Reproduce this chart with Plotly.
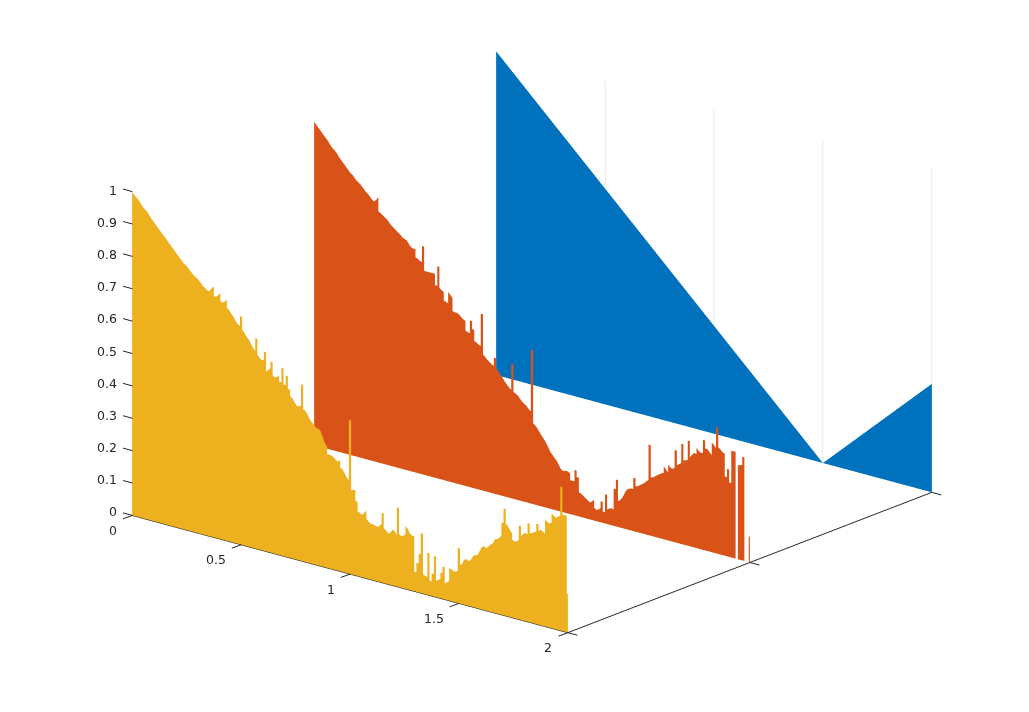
import plotly.graph_objects as go

x_step = 0.01
blue_x = [0, 1.5, 2]
blue_z = [1.0, 0.0, 0.335]
red_z = [
 1.00,.99,.985,.975,.97,.96,.955,.945,.935,.93,
 .925,.915,.905,.90,.89,.885,.875,.87,.865,.855,
 .85,.845,.84,.83,.825,.82,.81,.805,.80,.82,
 .775,.77,.765,.76,.755,.745,.74,.735,.73,.725,
 .72,.71,.715,.705,.695,.69,.69,.665,.66,.655,
 .705,.63,.63,.63,.63,.63,.595,.655,.59,.58,
 .555,.55,.585,.57,.53,.525,.53,.52,.515,.51,
 .48,.475,.515,.49,.455,.45,.445,.545,.42,.41,
 .405,.40,.395,.42,.39,.375,.37,.36,.35,.345,
 .335,.415,.33,.325,.32,.31,.305,.30,.295,.285,
 .475,.25,.24,.235,.22,.215,.205,.195,.18,.17,
 .165,.155,.15,.13,.13,.125,.135,.125,.105,.105,
 .14,.12,.075,.07,.065,.06,.055,.05,.065,.04,
 .03,.045,.065,.035,.09,.045,.055,.05,.115,.145,
 .08,.09,.10,.12,.125,.13,.13,.165,.14,.145,
 .15,.155,.16,.17,.28,.18,.185,.19,.195,.20,
 .205,.225,.21,.235,.22,.23,.285,.24,.25,.31,
 .26,.265,.325,.275,.295,.29,.31,.295,.30,.34,
 .315,.315,.30,.34,.325,.39,.33,.32,.315,.245,
 .27,.23,.33,.33,0,.29,.295,.32,0,0,
 .08]
yellow_z = [
 1.00,.99,.985,.98,.97,.96,.955,.95,.94,.93,
 .925,.915,.91,.90,.895,.885,.88,.87,.865,.855,
 .85,.84,.835,.825,.82,.815,.81,.80,.795,.79,
 .785,.78,.77,.765,.76,.755,.76,.775,.745,.745,
 .76,.735,.73,.745,.72,.71,.70,.695,.68,.675,
 .705,.665,.65,.645,.635,.625,.61,.65,.60,.585,
 .59,.615,.555,.57,.59,.55,.54,.555,.535,.58,
 .53,.56,.52,.50,.49,.48,.47,.48,.545,.47,
 .465,.45,.44,.435,.425,.42,.425,.41,.39,.375,
 .35,.355,.345,.35,.33,.345,.32,.315,.30,.29,
 .475,.26,.265,.23,.20,.195,.19,.21,.185,.17,
 .175,.17,.172,.165,.18,.215,.17,.16,.155,.165,
 .18,.16,.245,.165,.155,.17,.195,.18,.17,.17,
 .06,.09,.12,.185,.06,.055,.13,.045,.07,.125,
 .05,.06,.08,.10,.05,.06,.10,.10,.09,.10,
 .17,.12,.13,.15,.135,.14,.15,.165,.16,.17,
 .185,.20,.195,.19,.21,.205,.22,.235,.225,.245,
 .285,.33,.285,.275,.26,.24,.235,.245,.29,.26,
 .275,.27,.305,.275,.28,.285,.31,.29,.30,.285,
 .33,.32,.325,.355,.345,.345,.355,.445,.36,.36,
 .12]
series_y = [3, 2, 1]
colors = ["#0072BD", "#D95319", "#EDB120"]
x_ticks = [0, 0.5, 1, 1.5, 2]
y_ticks = [1, 2, 3]
z_ticks = [0, .1, .2, .3, .4, .5, .6, .7, .8, .9, 1]
grid_x = [0.5, 1, 1.5, 2]
grid_z_low = [0.667, 0.333, 0.0, 0.335]
INK = "#262626"


def mesh(X, Z, I, J, K, y, color):
    return go.Mesh3d(x=X, y=[y] * len(X), z=Z, i=I, j=J, k=K, color=color, flatshading=True,
                     lighting=dict(ambient=1, diffuse=0, specular=0, fresnel=0, roughness=1),
                     hoverinfo="skip", showscale=False)


def bars(zs, y, color):
    X, Z, I, J, K = [], [], [], [], []
    last = len(zs) - 1
    for n, v in enumerate(zs):
        if v <= 0:
            continue
        c = n * x_step
        a, b = max(c - x_step / 2, 0), min(c + x_step / 2, 2)
        # neighbouring bins that differ little join smoothly; spikes and gaps stay square
        left = (v + zs[n - 1]) / 2 if n > 0 and abs(v - zs[n - 1]) < 0.02 else v
        right = (v + zs[n + 1]) / 2 if n < last and abs(v - zs[n + 1]) < 0.02 else v
        k = len(X)
        X += [a, b, b, a]
        Z += [0, 0, right, left]
        I += [k, k]
        J += [k + 1, k + 2]
        K += [k + 2, k + 3]
    return mesh(X, Z, I, J, K, y, color)


def area(xs, zs, y, color):
    X, Z, I, J, K = [], [], [], [], []
    for n in range(len(xs) - 1):
        k = len(X)
        X += [xs[n], xs[n + 1], xs[n + 1], xs[n]]
        Z += [0, 0, zs[n + 1], zs[n]]
        I += [k, k]
        J += [k + 1, k + 2]
        K += [k + 2, k + 3]
    return mesh(X, Z, I, J, K, y, color)


fig = go.Figure()
for gx, gz in zip(grid_x, grid_z_low):
    fig.add_trace(go.Scatter3d(x=[gx, gx], y=[3, 3], z=[gz, 1], mode="lines",
                               line=dict(color="#d6d6d6", width=1), hoverinfo="skip", showlegend=False))
fig.add_trace(area(blue_x, blue_z, series_y[0], colors[0]))
fig.add_trace(bars(red_z, series_y[1], colors[1]))
fig.add_trace(bars(yellow_z, series_y[2], colors[2]))


def label(x, y, z, text, yshift):
    return dict(x=x, y=y, z=z, text=text, showarrow=False, xanchor="right", yanchor="middle",
                xshift=-13.5, yshift=yshift, font=dict(family="DejaVu Sans", size=12.5, color=INK))


def tick(x, y, z, ax, ay):
    return dict(x=x, y=y, z=z, text=" ", showarrow=True, arrowhead=0, arrowwidth=1, arrowcolor=INK,
                ax=ax, ay=ay, standoff=0, startstandoff=0, font=dict(size=1))


notes = []
for v in z_ticks:
    notes.append(label(0, 1, v, f"{v:g}", 1 + 3 * (1 - v)))
    notes.append(tick(0, 1, v, -11, -3))
for v in x_ticks:
    notes.append(label(v, 1, 0, f"{v:g}", -15))
    notes.append(tick(v, 1, 0, -11, 4))
for v in y_ticks:
    notes.append(tick(2, v, 0, 11, 3))

axis_common = dict(showbackground=False, showspikes=False, title=dict(text=""),
                   linecolor=INK, linewidth=2, ticks="", zeroline=False, showgrid=False,
                   showticklabels=False)
fig.update_layout(
    width=1029, height=712, margin=dict(l=0, r=0, t=0, b=0),
    paper_bgcolor="white", showlegend=False,
    scene=dict(
        domain=dict(x=[0.0343, 1], y=[0.0393, 1]),
        xaxis=dict(axis_common, range=[0, 2], tickvals=x_ticks, showline=True),
        yaxis=dict(axis_common, range=[1, 3], tickvals=y_ticks, showline=True),
        zaxis=dict(axis_common, range=[0, 1], tickvals=z_ticks, showline=False),
        aspectmode="manual", aspectratio=dict(x=1.66, y=1.66, z=1.0),
        camera=dict(projection=dict(type="orthographic"), up=dict(x=0, y=0, z=1),
                    center=dict(x=0, y=0, z=0),
                    eye=dict(x=0.607 * 2, y=-0.7265 * 2, z=0.322 * 2)),
        annotations=notes,
    ),
)
fig.write_html("out.html", post_script="document.body.style.margin='0';", config=dict(displayModeBar=False))
